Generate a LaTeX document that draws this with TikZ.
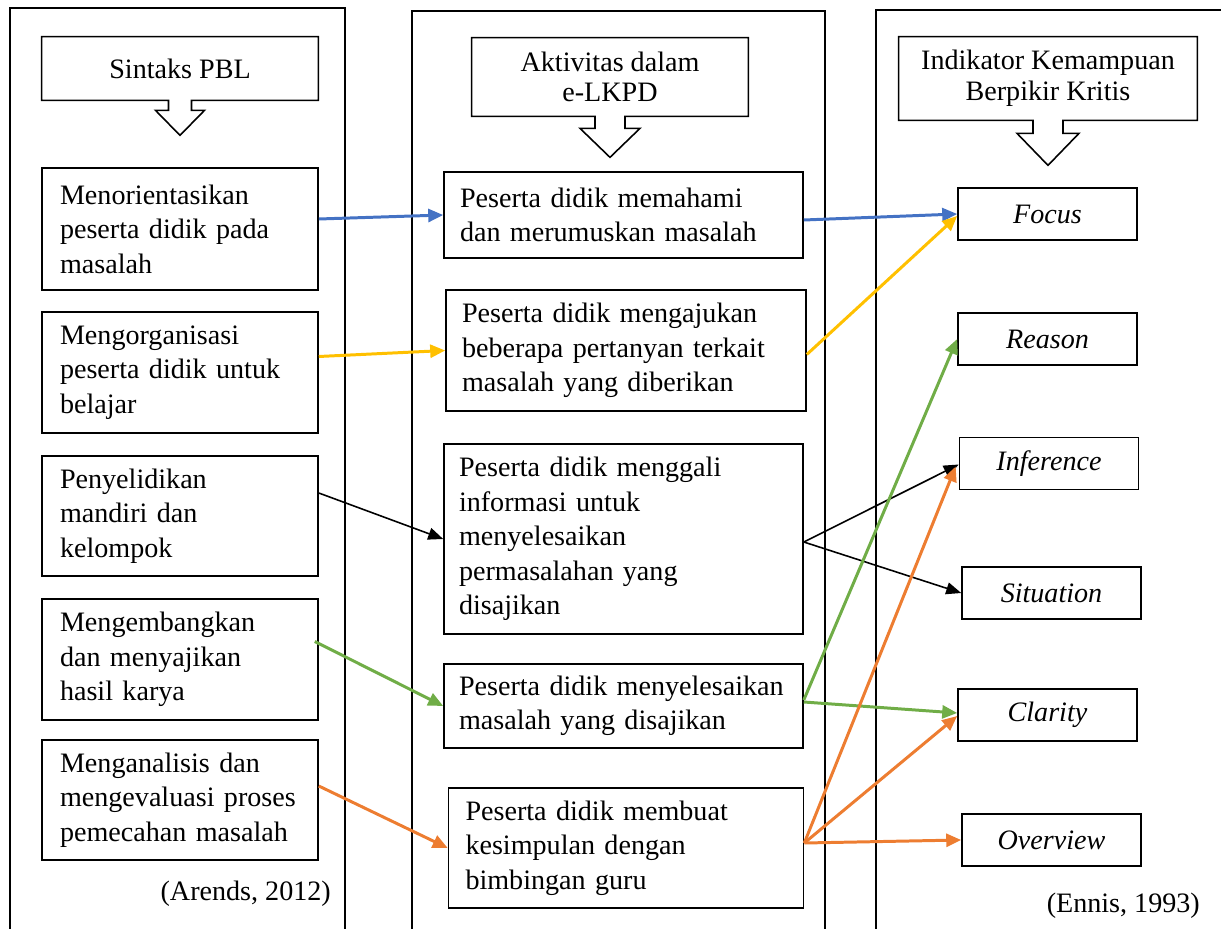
\documentclass[tikz,border=0pt]{standalone}
\usepackage{fontspec}
\setmainfont{Liberation Serif}
\usetikzlibrary{arrows.meta, calc}

\definecolor{lnkblue}{HTML}{4472C4}
\definecolor{lnkyellow}{HTML}{FFC000}
\definecolor{lnkgreen}{HTML}{70AD47}
\definecolor{lnkorange}{HTML}{ED7D31}

% outline of a header box with a hollow arrow under it
% #1 node, #2 stem half width, #3 head half width, #4 stem length, #5 head length
\newcommand{\hdrarrow}[5]{%
  \draw[line width=0.9pt] (#1.south west) -- (#1.north west) -- (#1.north east)
    -- (#1.south east) -- ($(#1.south)+(#2,0)$) -- ($(#1.south)+(#2,#4)$)
    -- ($(#1.south)+(#3,#4)$) -- ($(#1.south)+(0,#4+#5)$)
    -- ($(#1.south)+(-#3,#4)$) -- ($(#1.south)+(-#2,#4)$)
    -- ($(#1.south)+(-#2,0)$) -- cycle;}

\begin{document}
\begin{tikzpicture}[x=0.02cm, y=-0.02cm, font=\fontsize{16}{19.6}\selectfont,
    panel/.style={line width=1pt},
    hdr/.style 2 args={minimum width=#1*0.02cm, minimum height=#2*0.02cm,
                       inner sep=0pt, align=center,
                       font=\fontsize{16}{17.5}\selectfont},
    box/.style n args={3}{draw, line width=0.9pt, text width=#1*0.02cm,
                          minimum height=#2*0.02cm, inner xsep=#3*0.02cm,
                          inner ysep=0pt, align=left},
    ind/.style={draw, line width=0.9pt, minimum width=179*0.02cm,
                minimum height=52*0.02cm, font=\fontsize{16}{19.6}\itshape},
    link/.style={line width=1.7pt, -{Triangle[length=0.3cm, width=0.26cm]}},
    thin link/.style={line width=0.9pt, -{Triangle[length=0.3cm, width=0.24cm]}}]
    \useasboundingbox (0,0) rectangle (1221,929);

    % columns
    \draw[panel] (10,929) -- (10,8) -- (345,8) -- (345,929);
    \draw[panel] (412,929) -- (412,11) -- (825,11) -- (825,929);
    \draw[panel] (876,929) -- (876,10) -- (1221,10);

    % headers
    \node[hdr={276}{63}] (h1) at (180,68.5) {Sintaks PBL};
    \node[hdr={276}{78}] (h2) at (610,77) {Aktivitas dalam\\e-LKPD};
    \node[hdr={298}{83}] (h3) at (1048,78.5) {Indikator Kemampuan\\Berpikir Kritis};
    \hdrarrow{h1}{11.5}{24.5}{10}{25}
    \hdrarrow{h2}{15}{30}{12}{29}
    \hdrarrow{h3}{15}{31}{13}{32}

    % sintaks PBL
    \node[box={240}{122}{18}] (s1) at (180,229) {Menorientasikan\\peserta didik pada\\masalah};
    \node[box={240}{121}{18}] (s2) at (180,372.5) {Mengorganisasi\\peserta didik untuk\\belajar};
    \node[box={240}{120}{18}] (s3) at (180,516) {Penyelidikan\\mandiri dan\\kelompok};
    \node[box={240}{121}{18}] (s4) at (180,659.5) {Mengembangkan\\dan menyajikan\\hasil karya};
    \node[box={240}{120}{18}] (s5) at (180,800) {Menganalisis dan\\mengevaluasi proses\\pemecahan masalah};
    \node[anchor=base east] (arends) at (337,900) {(Arends, 2012)};

    % aktivitas e-LKPD
    \node[box={327}{86}{16}] (a1) at (623.5,215) {Peserta didik memahami\\dan merumuskan masalah};
    \node[box={328}{121}{16}] (a2) at (626,350.5) {Peserta didik mengajukan\\beberapa pertanyan terkait\\masalah yang diberikan};
    \node[box={329}{190}{15}] (a3) at (623.5,539) {Peserta didik menggali\\informasi untuk\\menyelesaikan\\permasalahan yang\\disajikan};
    \node[box={329}{84}{15}] (a4) at (623.5,706) {Peserta didik menyelesaikan\\masalah yang disajikan};
    \node[box={321}{120}{17}] (a5) at (626,848) {Peserta didik membuat\\kesimpulan dengan\\bimbingan guru};

    % indikator
    \node[ind] (focus) at (1047.5,214) {Focus};
    \node[ind] (reason) at (1047.5,339) {Reason};
    \node[ind] (inference) at (1049,463.5) {Inference};
    \node[ind] (situation) at (1051.5,593) {Situation};
    \node[ind] (clarity) at (1047.5,715) {Clarity};
    \node[ind] (overview) at (1051.5,840) {Overview};
    \node[anchor=base east] (ennis) at (1206,912) {(Ennis, 1993)};

    % links
    \draw[link, lnkblue] ($(s1.east)+(0,-10)$) -- (a1.west);
    \draw[link, lnkblue] ($(a1.east)+(0,5)$) -- (focus.west);
    \draw[link, lnkyellow] ($(s2.east)+(0,-16)$) -- (a2.west);
    \draw[link, lnkyellow] ($(a2.east)+(0,4)$) -- ($(focus.west)+(0,2)$);
    \draw[thin link] ($(s3.east)+(0,-23)$) -- (a3.west);
    \draw[thin link] ($(a3.east)+(0,3)$) -- ($(inference.west)+(0,1)$);
    \draw[thin link] ($(a3.east)+(0,3)$) -- (situation.west);
    \draw[link, lnkgreen] ($(s4.east)+(-4,-18)$) -- (a4.west);
    \draw[link, lnkgreen] ($(a4.east)+(0,-6)$) -- (reason.west);
    \draw[link, lnkgreen] ($(a4.east)+(0,-4)$) -- ($(clarity.west)+(0,-2)$);
    \draw[link, lnkorange] ($(s5.east)+(0,-14)$) -- (a5.west);
    \draw[link, lnkorange] ($(a5.east)+(0,-5)$) -- ($(inference.west)+(-3,3)$);
    \draw[link, lnkorange] ($(a5.east)+(0,-5)$) -- ($(clarity.west)+(0,1)$);
    \draw[link, lnkorange] ($(a5.east)+(0,-5)$) -- (overview.west);
\end{tikzpicture}
\end{document}
